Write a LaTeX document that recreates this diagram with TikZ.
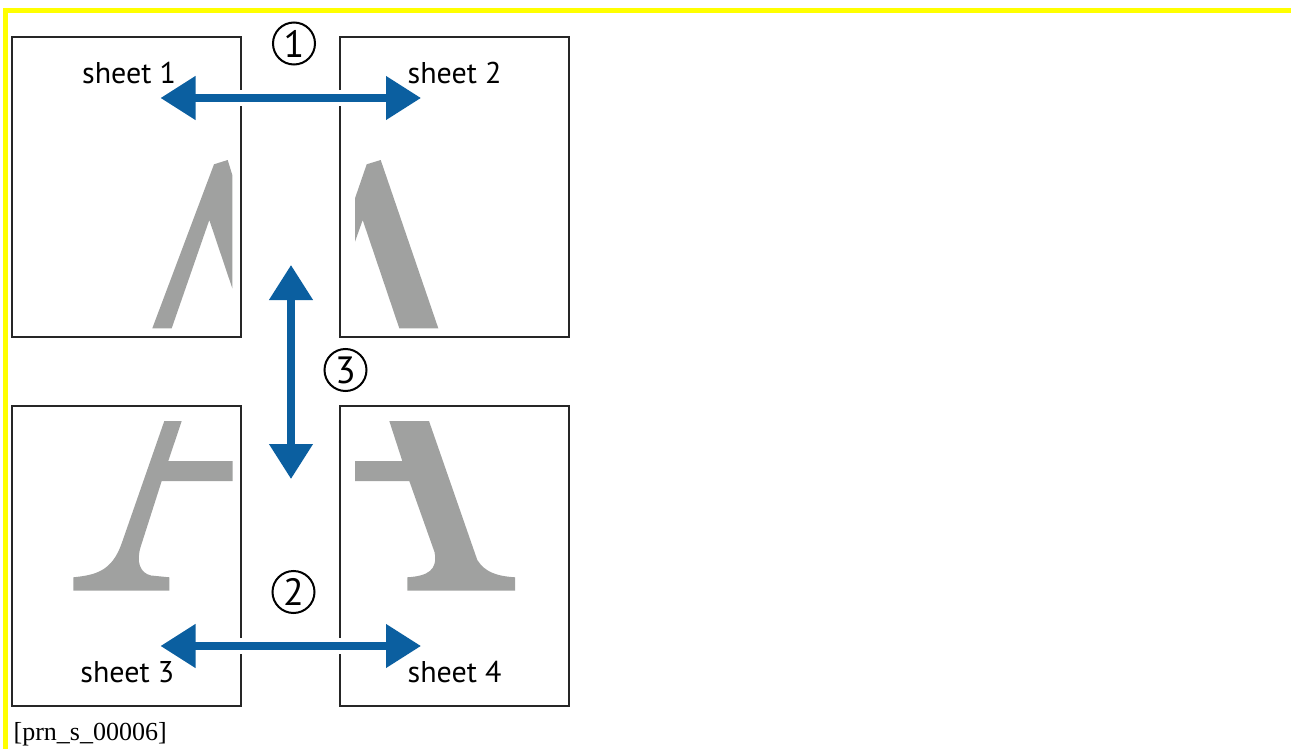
\documentclass[tikz,border=0pt]{standalone}
\usepackage{fontspec}
\setsansfont{PT Sans}
\newfontfamily\capfont{Liberation Serif}
\usetikzlibrary{arrows.meta,positioning}
\definecolor{joinblue}{HTML}{0B5FA0}
\definecolor{glyphgray}{HTML}{A0A1A0}
\definecolor{markyellow}{HTML}{FFFF00}

\begin{document}
\begin{tikzpicture}[x=1pt,y=-1pt,
  sheetbox/.style={draw=black!85,line width=1.3pt,minimum width=229pt,
                   minimum height=300pt,inner sep=0pt},
  sheetlabel/.style={anchor=base,inner sep=0pt,
                     font=\sffamily\fontsize{30}{33}\selectfont},
  stepnum/.style={draw,circle,line width=2pt,minimum size=42pt,inner sep=0pt,
                  font=\sffamily\fontsize{38}{40}\selectfont},
  joinarrow/.style={joinblue,line width=7.6pt,
                    {Triangle[length=35pt,width=42pt]}-{Triangle[length=35pt,width=42pt]}},
  gapline/.style={white,line width=16pt}]
  \useasboundingbox (0,0) rectangle (1291,749);
  % yellow frame (left and top edges)
  \draw[markyellow,line width=5pt] (5.5,749) -- (5.5,10.5) -- (1291,10.5);
  % the four sheets
  \foreach \cx/\cy/\nm in {126.5/187/s1,454.5/187/s2,126.5/556/s3,454.5/556/s4}
    \node[sheetbox] (\nm) at (\cx,\cy) {};
  % parts of the letter A on each sheet
  \fill[glyphgray] (152.3,328.3) -- (171.7,328.3) -- (209.3,220) -- (232.3,288.3)
    -- (232.3,175) -- (227.7,160) -- (214,164.3) -- cycle;
  \fill[glyphgray] (355,198.3) -- (366.7,164.3) -- (380.7,160) -- (438.3,328.3)
    -- (399.3,328.3) -- (362.7,220) -- (355,241.7) -- cycle;
  \fill[glyphgray] (164.3,421) -- (181.7,421) -- (168.3,461) -- (232.7,461)
    -- (232.7,481) -- (161.7,481) -- (140.7,546.7)
    .. controls (136,562) and (140,573) .. (151,575.5) -- (169.3,577.3)
    -- (169.3,590.7) -- (73.3,590.7) -- (73.3,577.3)
    .. controls (96,575) and (112,571) .. (121.7,543.3) -- cycle;
  \fill[glyphgray] (389.3,421) -- (429,421) -- (477.3,560)
    .. controls (485,572) and (496,576) .. (515,577.3) -- (515,590.7)
    -- (407.3,590.7) -- (407.3,577.3)
    .. controls (428,576) and (438,570) .. (434.5,552) -- (409.3,481)
    -- (355,481) -- (355,461) -- (402.3,461) -- cycle;
  % arrow ends
  \coordinate (a1l) at (160.5,98);
  \coordinate (a1r) at (421,98);
  \coordinate (a2l) at (160.5,646);
  \coordinate (a2r) at (421,646);
  \coordinate (a3t) at (291,265);
  \coordinate (a3b) at (291,479);
  % white gaps where the arrows cross the sheet edges
  \draw[gapline] ([xshift=60pt]a1l) -- ([xshift=-60pt]a1r);
  \draw[gapline] ([xshift=60pt]a2l) -- ([xshift=-60pt]a2r);
  % arrows
  \draw[joinarrow] (a1l) -- (a1r);
  \draw[joinarrow] (a2l) -- (a2r);
  \draw[joinarrow] (a3t) -- (a3b);
  % step numbers
  \node[stepnum] (n1) at (294,43.5) {1};
  \node[stepnum] (n2) at (293.5,592) {2};
  \node[stepnum] (n3) at (345.5,370) {3};
  % sheet labels
  \node[sheetlabel] (l1) at (129,83.3) {sheet 1};
  \node[sheetlabel] (l2) at (454.5,83.3) {sheet 2};
  \node[sheetlabel] (l3) at (127.3,682.7) {sheet 3};
  \node[sheetlabel] (l4) at (454.5,682.7) {sheet 4};
  % image id
  \node[anchor=base west,inner sep=0pt,font=\capfont\fontsize{26}{28}\selectfont]
    (cap) at (13.4,740) {[prn\_s\_00006]};
\end{tikzpicture}
\end{document}
